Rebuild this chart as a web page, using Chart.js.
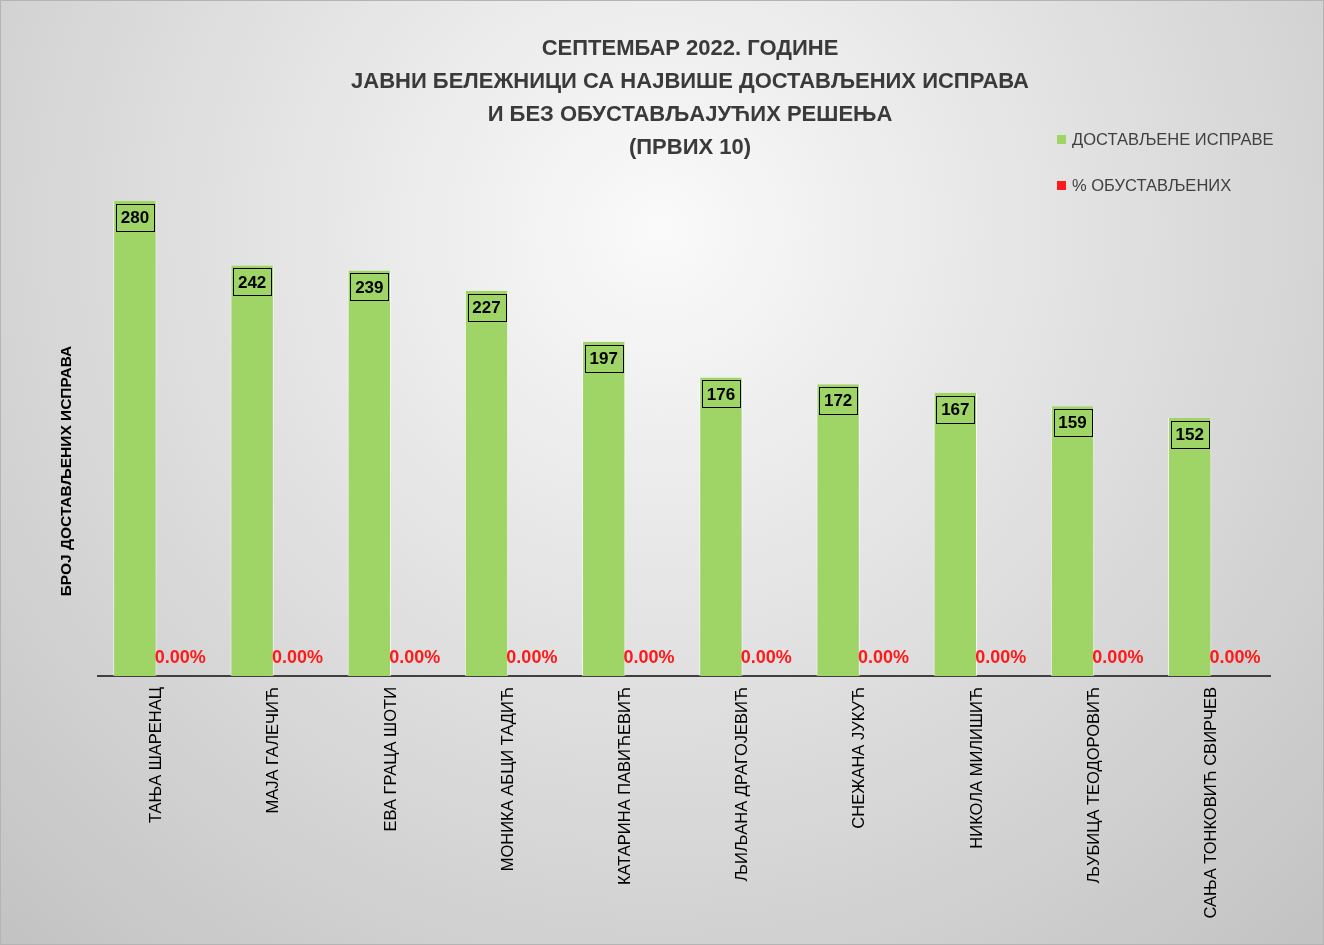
<!DOCTYPE html>
<html>
<head>
<meta charset="utf-8">
<script src="https://cdn.jsdelivr.net/npm/chart.js@4.4.1/dist/chart.umd.min.js"></script>
<style>
  html, body { margin: 0; padding: 0; background: #d0d0d0; }
  #wrap { width: 1324px; height: 945px; position: relative; }
</style>
</head>
<body>
<div id="wrap"><canvas id="Chart" width="1324" height="945"></canvas></div>
<script>
const categories = ["ТАЊА ШАРЕНАЦ", "МАЈА ГАЛЕЧИЋ", "ЕВА ГРАЦА ШОТИ", "МОНИКА АБЦИ ТАДИЋ",
    "КАТАРИНА ПАВИЋЕВИЋ", "ЉИЉАНА ДРАГОЈЕВИЋ", "СНЕЖАНА ЈУКУЋ", "НИКОЛА МИЛИШИЋ",
    "ЉУБИЦА ТЕОДОРОВИЋ", "САЊА ТОНКОВИЋ СВИРЧЕВ"];
const delivered = [280, 242, 239, 227, 197, 176, 172, 167, 159, 152];
const suspendedPct = [0, 0, 0, 0, 0, 0, 0, 0, 0, 0];
const seriesNames = ["ДОСТАВЉЕНЕ ИСПРАВЕ", "% ОБУСТАВЉЕНИХ"];
const titleLines = ["СЕПТЕМБАР 2022. ГОДИНЕ", "ЈАВНИ БЕЛЕЖНИЦИ СА НАЈВИШЕ ДОСТАВЉЕНИХ ИСПРАВА",
    "И БЕЗ ОБУСТАВЉАЈУЋИХ РЕШЕЊА", "(ПРВИХ 10)"];
const yTitle = "БРОЈ ДОСТАВЉЕНИХ ИСПРАВА";

const green = "rgb(158, 213, 102)";
const red = "rgb(255, 25, 25)";
const font = "'Liberation Sans', Arial, sans-serif";

const decor = {
    id: "decor",
    beforeDraw(chart) {
        const c = chart.ctx;
        const w = chart.width, h = chart.height;
        const g = c.createRadialGradient(660, 230, 0, 660, 230, 980);
        g.addColorStop(0, "#fafafa");
        g.addColorStop(1, "#c2c2c2");
        c.save();
        c.fillStyle = g;
        c.fillRect(0, 0, w, h);
        c.strokeStyle = "#b4b4b4";
        c.lineWidth = 2;
        c.strokeRect(0, 0, w, h);
        c.restore();
    },
    afterDatasetsDraw(chart) {
        const c = chart.ctx;
        c.save();
        c.textAlign = "center";
        c.textBaseline = "middle";
        c.font = "bold 17px " + font;
        chart.getDatasetMeta(0).data.forEach((bar, i) => {
            const txt = String(delivered[i]);
            const bw = 38, bh = 27;
            const top = bar.y + 3;
            c.strokeStyle = "#000";
            c.lineWidth = 1;
            c.strokeRect(Math.round(bar.x - bw / 2) + 0.5, Math.round(top) + 0.5, bw, bh);
            c.fillStyle = "#000";
            c.fillText(txt, bar.x, top + bh / 2 + 1);
        });
        const base = chart.scales.y.getPixelForValue(0);
        c.fillStyle = red;
        c.font = "bold 18px " + font;
        chart.getDatasetMeta(1).data.forEach((bar, i) => {
            c.fillText(suspendedPct[i].toFixed(2) + "%", bar.x + 2, base - 18);
        });
        c.restore();
    },
    afterDraw(chart) {
        const c = chart.ctx;
        c.save();
        c.textAlign = "center";
        c.textBaseline = "middle";
        c.fillStyle = "#3a3a3a";
        c.font = "bold 22px " + font;
        titleLines.forEach((t, i) => c.fillText(t, 690, 49 + i * 33));

        // legend
        c.textAlign = "left";
        c.font = "16.5px " + font;
        [green, red].forEach((col, i) => {
            const y = 140 + i * 46;
            c.fillStyle = col;
            c.fillRect(1057, y - 5, 9, 9);
            c.fillStyle = "#404040";
            c.fillText(seriesNames[i], 1072, y);
        });

        // y axis title
        c.translate(67, 471);
        c.rotate(-Math.PI / 2);
        c.textAlign = "center";
        c.fillStyle = "#000";
        c.font = "bold 15.5px " + font;
        c.fillText(yTitle, 0, 0);
        c.restore();
    }
};

const data = {
    labels: categories,
    datasets: [{
            label: seriesNames[0],
            data: delivered,
            backgroundColor: green,
            borderColor: "rgba(255,255,255,0.7)",
            borderWidth: {left: 1, right: 1, top: 0, bottom: 0},
            yAxisID: "y",
        },
        {
            label: seriesNames[1],
            data: suspendedPct,
            backgroundColor: red,
            borderWidth: 0,
            yAxisID: "y1",
        },
    ],
};

const config = {
    type: "bar",
    data: data,
    options: {
        responsive: false,
        animation: false,
        layout: {padding: {top: 167, left: 98, right: 54, bottom: 0}},
        datasets: {bar: {categoryPercentage: 0.74, barPercentage: 1}},
        plugins: {
            legend: {display: false},
            title: {display: false},
            tooltip: {enabled: false},
        },
        scales: {
            x: {
                grid: {display: false, drawTicks: false},
                border: {display: true, color: "#404040", width: 2},
                ticks: {
                    color: "#000",
                    font: {family: font, size: 16.5},
                    minRotation: 90,
                    maxRotation: 90,
                    padding: 11,
                    autoSkip: false,
                },
                afterFit(scale) { scale.height = 269; },
            },
            y: {display: false, min: 0, max: 300},
            y1: {display: false, min: 0, max: 1},
        },
    },
    plugins: [decor],
};

const myChart = new Chart(document.getElementById("Chart"), config);
</script>
</body>
</html>
